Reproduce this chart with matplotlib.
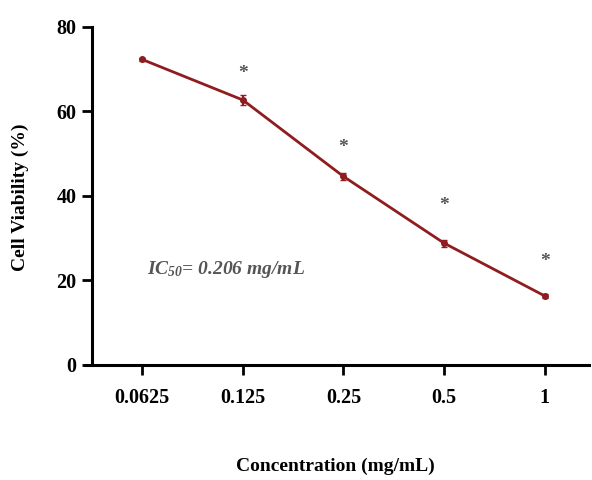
import matplotlib.pyplot as plt
import numpy as np

plt.rcParams['font.family'] = ['Liberation Serif', 'DejaVu Serif']
plt.rcParams['mathtext.fontset'] = 'custom'
plt.rcParams['mathtext.it'] = 'Liberation Serif:italic:bold'
plt.rcParams['mathtext.rm'] = 'Liberation Serif:italic:bold'

# data
conc_labels = ['0.0625', '0.125', '0.25', '0.5', '1']
viability = [72.3, 62.7, 44.6, 28.8, 16.3]
viability_err = [0.4, 1.2, 0.9, 0.8, 0.4]
star_y = [69.0, 51.5, 37.8, 24.5]  # asterisks for the last four doses

x = np.arange(len(conc_labels))
line_color = '#8f1c1f'

fig = plt.figure(figsize=(5.92, 4.8), dpi=100)
ax = fig.add_axes([0.155, 0.24, 0.84, 0.704])

ax.errorbar(x, viability, yerr=viability_err, color=line_color, lw=2.0,
            marker='o', ms=4, capsize=2, elinewidth=1.5)

for xi, yi in zip(x[1:], star_y):
    ax.text(xi, yi, '*', ha='center', va='center', fontsize=14,
            color='#555555', fontweight='bold')

ax.text(0.05, 22.5, r'$IC_{50}$= 0.206 mg/mL', fontsize=14, style='italic',
        fontweight='bold', color='#555555', va='center')

ax.set_xlim(-0.5, 4.44)
ax.set_ylim(0, 80)
ax.set_yticks([0, 20, 40, 60, 80])
ax.set_xticks(x)
ax.set_xticklabels(conc_labels)

for s in ['top', 'right']:
    ax.spines[s].set_visible(False)
ax.spines['left'].set_linewidth(2.2)
ax.spines['bottom'].set_linewidth(2.2)
ax.spines['bottom'].set_bounds(-0.57, 4.44)

ax.tick_params(axis='both', width=2, length=7, labelsize=14.5, pad=4)
ax.tick_params(axis='x', pad=10)
for lab in ax.get_xticklabels() + ax.get_yticklabels():
    lab.set_fontweight('bold')

ax.set_ylabel('Cell Viability (%)', fontsize=14, fontweight='bold', va='center')
ax.yaxis.set_label_coords(-0.144, 0.497)
ax.set_xlabel('Concentration (mg/mL)', fontsize=14, fontweight='bold', va='center')
ax.xaxis.set_label_coords(0.49, -0.30)

fig.savefig('out.png', dpi=100)
